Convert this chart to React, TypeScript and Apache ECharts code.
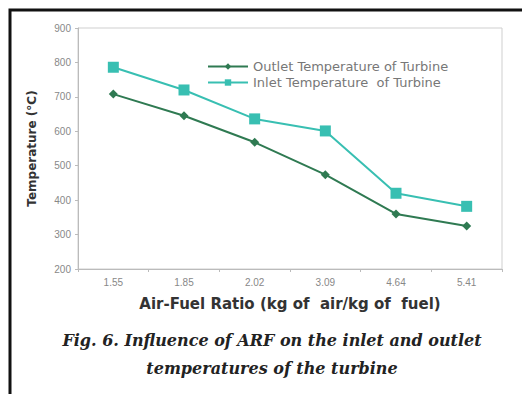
import React, { useEffect, useRef } from "react";
import * as echarts from "echarts";

const categories = ["1.55", "1.85", "2.02", "3.09", "4.64", "5.41"];
const outletTemp = [708, 645, 568, 474, 360, 325];
const inletTemp = [786, 720, 636, 601, 420, 382];
const seriesNames = ["Outlet Temperature of Turbine", "Inlet Temperature  of Turbine"];
const captionLines = [
  "Fig. 6. Influence of ARF on the inlet and outlet",
  "temperatures of the turbine",
];

export default function App() {
  const ref = useRef<HTMLDivElement>(null);
  useEffect(() => {
    if (!ref.current) return;
    const chart = echarts.init(ref.current, undefined, { renderer: "svg" });
    chart.setOption({
      animation: false,
      backgroundColor: "#ffffff",
      grid: {
        left: 78,
        right: 20,
        top: 28,
        bottom: 125,
        show: true,
        borderColor: "#cfcfcf",
        borderWidth: 1,
      },
      legend: {
        orient: "vertical",
        left: 202,
        top: 55,
        itemWidth: 40,
        itemHeight: 8,
        itemGap: 3,
        textStyle: { fontSize: 13, color: "#777", fontFamily: "DejaVu Sans" },
        data: seriesNames,
      },
      xAxis: {
        type: "category",
        data: categories,
        boundaryGap: true,
        axisLine: { lineStyle: { color: "#bbb" } },
        axisTick: { show: true, alignWithLabel: false, length: 3, lineStyle: { color: "#bbb" } },
        axisLabel: { color: "#888", fontSize: 10, margin: 8, fontFamily: "Liberation Sans" },
        name: "Air-Fuel Ratio (kg of  air/kg of  fuel)",
        nameLocation: "middle",
        nameGap: 27,
        nameTextStyle: { fontSize: 15, fontWeight: "bold", color: "#333", fontFamily: "DejaVu Sans" },
      },
      yAxis: {
        type: "value",
        min: 200,
        max: 900,
        interval: 100,
        axisLine: { show: true, lineStyle: { color: "#bbb" } },
        axisTick: { show: true, length: 3, lineStyle: { color: "#bbb" } },
        splitLine: { show: false },
        axisLabel: { color: "#888", fontSize: 10, margin: 7, fontFamily: "Liberation Sans" },
        name: "Temperature (°C)",
        nameLocation: "middle",
        nameGap: 40,
        nameTextStyle: { fontSize: 12, fontWeight: "bold", color: "#333", fontFamily: "DejaVu Sans" },
      },
      series: [
        {
          name: seriesNames[0],
          type: "line",
          data: outletTemp,
          symbol: "diamond",
          symbolSize: 9,
          color: "#2f7a52",
          lineStyle: { width: 2, color: "#2f7a52" },
          itemStyle: { color: "#2f7a52" },
        },
        {
          name: seriesNames[1],
          type: "line",
          data: inletTemp,
          symbol: "rect",
          symbolSize: 11,
          color: "#38bfb2",
          lineStyle: { width: 2, color: "#38bfb2" },
          itemStyle: { color: "#38bfb2" },
        },
      ],
      graphic: [
        {
          type: "polyline",
          shape: { points: [[10, 394], [10, 10], [522, 10]] },
          style: { stroke: "#111", lineWidth: 3, fill: "none" },
        },
        {
          type: "text",
          x: 272,
          y: 340,
          style: {
            text: captionLines[0],
            font: "italic bold 16px 'DejaVu Serif'",
            fill: "#222",
            textAlign: "center",
            textVerticalAlign: "middle",
          },
        },
        {
          type: "text",
          x: 272,
          y: 368,
          style: {
            text: captionLines[1],
            font: "italic bold 16px 'DejaVu Serif'",
            fill: "#222",
            textAlign: "center",
            textVerticalAlign: "middle",
          },
        },
      ],
    });
    return () => chart.dispose();
  }, []);
  return (
    <div
      ref={ref}
      style={{ position: "fixed", left: 0, top: 0, width: 522, height: 394 }}
    />
  );
}
